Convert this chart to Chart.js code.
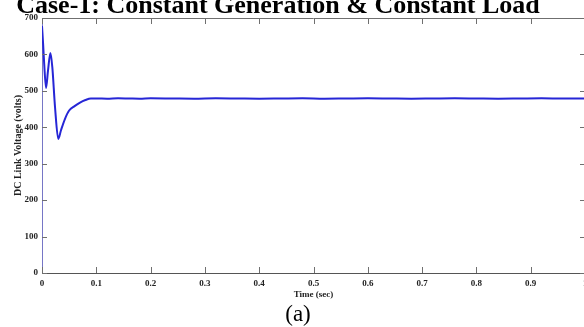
<!DOCTYPE html>
<html lang="en">
<head>
    <meta charset="UTF-8" />
    <title>Case-1: DC Link Voltage</title>
    <script src="https://cdn.jsdelivr.net/npm/chart.js"></script>
    <style>
        html, body { margin: 0; padding: 0; background: #fff; overflow: hidden; }
        #wrap { position: relative; width: 585px; height: 327px; }
    </style>
</head>
<body>
    <div id="wrap"><canvas id="voltageChart"></canvas></div>

    <script>
        // DC link voltage (volts) against time (sec)
        const timeSec = [0, 0.002, 0.004, 0.0075, 0.011, 0.0155, 0.019, 0.024, 0.030, 0.035, 0.042,
            0.050, 0.060, 0.070, 0.080, 0.090, 0.10, 0.12, 0.14, 0.16, 0.18, 0.20, 0.24, 0.28,
            0.32, 0.36, 0.40, 0.44, 0.48, 0.52, 0.56, 0.60, 0.64, 0.68, 0.72, 0.76, 0.80,
            0.84, 0.88, 0.92, 0.96, 1.0];
        const dcLinkVolts = [678, 630, 575, 508, 555, 604, 565, 455, 368, 392, 422,
            446, 458, 468, 475, 479, 479, 478.5, 479.5, 479, 478.5, 479.5, 479, 478.5,
            479.5, 479, 478.5, 479, 479.5, 478.5, 479, 479.5, 479, 478.5, 479, 479.5, 479,
            478.5, 479, 479.5, 479, 479];

        const xTicks = [0, 0.1, 0.2, 0.3, 0.4, 0.5, 0.6, 0.7, 0.8, 0.9, 1];
        const yTicks = [0, 100, 200, 300, 400, 500, 600, 700];

        const titleText = "Case-1: Constant Generation & Constant Load";
        const captionText = "(a)";

        const serif = "'Liberation Serif', 'Times New Roman', serif";

        // heading, caption, box edges and inward tick marks
        const framePlugin = {
            id: 'frame',
            afterDatasetsDraw(chart) {
                const { ctx, chartArea: a, scales: { x, y } } = chart;
                ctx.save();
                ctx.strokeStyle = '#6f6f6f';
                ctx.lineWidth = 1;
                ctx.beginPath();
                ctx.moveTo(a.left, a.top + 0.5);
                ctx.lineTo(a.right, a.top + 0.5);
                ctx.moveTo(a.right - 0.5, a.top);
                ctx.lineTo(a.right - 0.5, a.bottom);
                xTicks.forEach(v => {
                    const px = Math.round(x.getPixelForValue(v)) + 0.5;
                    ctx.moveTo(px, a.top);
                    ctx.lineTo(px, a.top + 6);
                    ctx.moveTo(px, a.bottom);
                    ctx.lineTo(px, a.bottom - 6);
                });
                yTicks.forEach(v => {
                    const py = Math.round(y.getPixelForValue(v)) + 0.5;
                    ctx.moveTo(a.left, py);
                    ctx.lineTo(a.left + 5, py);
                    ctx.moveTo(a.right, py);
                    ctx.lineTo(a.right - 5, py);
                });
                ctx.stroke();

                ctx.fillStyle = '#000';
                ctx.textAlign = 'center';
                ctx.textBaseline = 'alphabetic';
                ctx.font = 'bold 26px ' + serif;
                ctx.fillText(titleText, 278, 13);
                ctx.font = '23px ' + serif;
                ctx.fillText(captionText, 298, 321);
                ctx.restore();
            }
        };

        const ctx = document.getElementById('voltageChart').getContext('2d');
        new Chart(ctx, {
            type: 'line',
            data: {
                datasets: [{
                    data: timeSec.map((t, i) => ({ x: t, y: dcLinkVolts[i] })),
                    borderColor: '#2626d6',
                    borderWidth: 2,
                    pointRadius: 0,
                    cubicInterpolationMode: 'monotone',
                    fill: false
                }]
            },
            options: {
                responsive: true,
                maintainAspectRatio: false,
                animation: false,
                layout: { padding: { top: 18, right: 0, bottom: 0, left: 0 } },
                plugins: { legend: { display: false }, tooltip: { enabled: false } },
                scales: {
                    x: {
                        type: 'linear',
                        min: 0,
                        max: 1,
                        afterFit: s => { s.height = 54; s.paddingLeft = 0; s.paddingRight = 0; },
                        afterBuildTicks: s => { s.ticks = xTicks.map(v => ({ value: v })); },
                        grid: { display: false, drawTicks: false },
                        border: { display: true, color: '#555', width: 1 },
                        ticks: {
                            padding: 5,
                            color: '#222',
                            maxRotation: 0,
                            autoSkip: false,
                            callback: v => String(v),
                            font: { family: serif, size: 9, weight: 'bold' }
                        },
                        title: {
                            display: true,
                            text: 'Time (sec)',
                            color: '#222',
                            padding: { top: 0, bottom: 26.6 },
                            font: { family: serif, size: 9, weight: 'bold' }
                        }
                    },
                    y: {
                        min: 0,
                        max: 700,
                        afterFit: s => { s.width = 42; s.paddingTop = 0; s.paddingBottom = 0; },
                        afterBuildTicks: s => { s.ticks = yTicks.map(v => ({ value: v })); },
                        grid: { display: false, drawTicks: false },
                        border: { display: true, color: '#7676c6', width: 1 },
                        ticks: {
                            padding: 4,
                            color: '#222',
                            autoSkip: false,
                            callback: v => String(v),
                            font: { family: serif, size: 9, weight: 'bold' }
                        },
                        title: {
                            display: true,
                            text: 'DC Link Voltage (volts)',
                            color: '#222',
                            padding: { top: 12, bottom: 0 },
                            font: { family: serif, size: 10, weight: 'bold' }
                        }
                    }
                }
            },
            plugins: [framePlugin]
        });
    </script>
</body>
</html>
